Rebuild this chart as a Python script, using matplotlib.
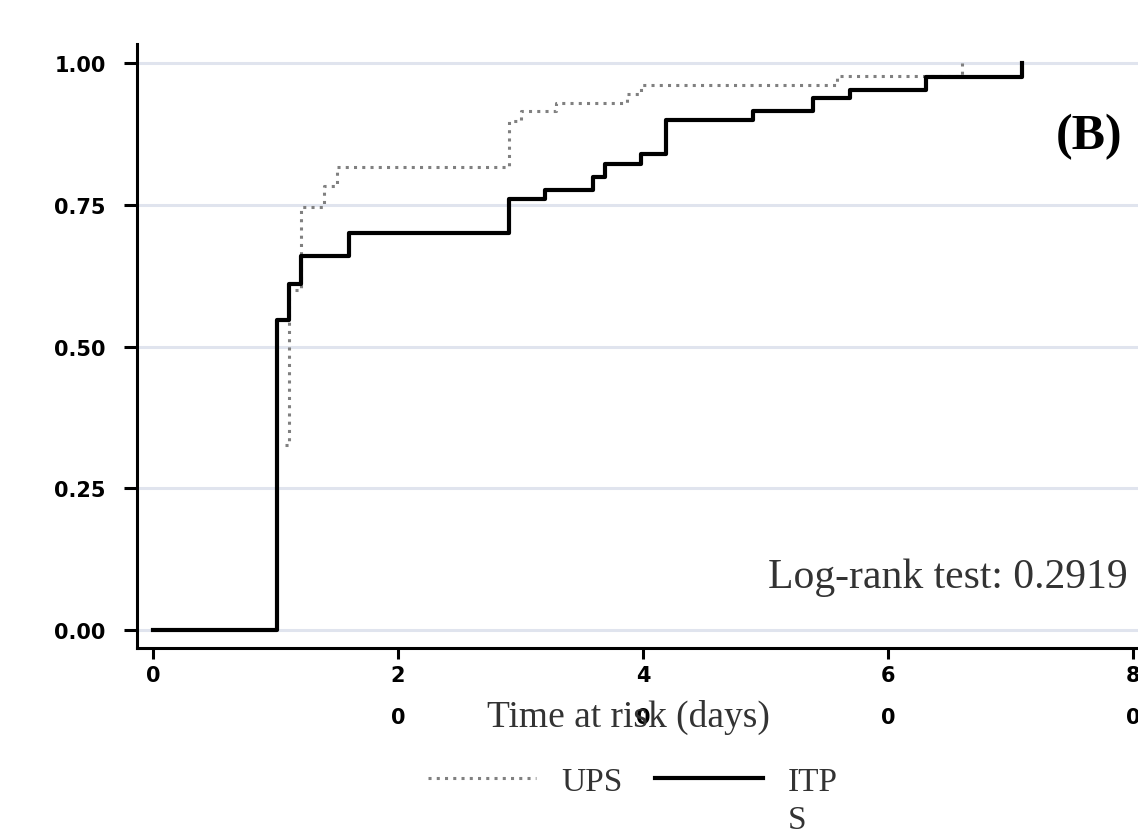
import matplotlib
matplotlib.use("Agg")
import matplotlib.pyplot as plt

# Kaplan-Meier style cumulative curves (time in days, cumulative proportion)
itps_t = [0, 10.1, 11.1, 12.05, 16.0, 29.1, 32.0, 35.9, 36.9, 39.8, 41.9, 49.0, 53.9, 56.9, 63.1, 70.9]
itps_s = [0.0, 0.547, 0.61, 0.66, 0.70, 0.76, 0.776, 0.80, 0.823, 0.84, 0.90, 0.916, 0.938, 0.953, 0.976, 1.0]
ups_t = [10.8, 11.1, 12.05, 14.0, 15.0, 29.1, 30.0, 32.9, 38.7, 39.8, 55.8, 66.0]
ups_s = [0.326, 0.60, 0.747, 0.784, 0.817, 0.899, 0.916, 0.93, 0.945, 0.961, 0.977, 1.0]

x_ticks = [0, 20, 40, 60, 80]
x_labels = ["0", "2\n0", "4\n0", "6\n0", "8\n0"]
y_ticks = [0.0, 0.25, 0.50, 0.75, 1.00]
y_labels = ["0.00", "0.25", "0.50", "0.75", "1.00"]

serif = ["Liberation Serif", "DejaVu Serif"]
narrow = ["Liberation Sans Narrow", "DejaVu Sans"]

fig = plt.figure(figsize=(11.38, 8.37), dpi=100)
ax = fig.add_axes([0.1204, 0.2246, 0.8796, 0.7216])

ax.set_xlim(-1.3, 80.4)
ax.set_ylim(-0.032, 1.034)

# grid
for y in y_ticks:
    ax.axhline(y, color="#e0e4ee", lw=2.2, zorder=0)

# curves
ax.plot(ups_t, ups_s, drawstyle="steps-post", color="#808080", lw=2.2,
        linestyle=(0, (1, 1.7)), label="UPS", zorder=2)
ax.plot(itps_t, itps_s, drawstyle="steps-post", color="black", lw=3,
        label="ITP", zorder=3)

# spines / ticks
for s in ["top", "right"]:
    ax.spines[s].set_visible(False)
for s in ["left", "bottom"]:
    ax.spines[s].set_linewidth(2.2)

ax.set_xticks(x_ticks, x_labels)
ax.set_yticks(y_ticks, y_labels)
ax.tick_params(axis="y", length=9.5, width=2.2, pad=13)
ax.tick_params(axis="x", length=8, width=2.2, pad=4)
for lbl in ax.get_yticklabels() + ax.get_xticklabels():
    lbl.set_family(narrow)
    lbl.set_fontweight("bold")
    lbl.set_fontsize(15)
for lbl in ax.get_xticklabels():
    lbl.set_linespacing(2.4)

ax.set_xlabel("Time at risk (days)", family=serif, fontsize=27, color="#333333")
ax.xaxis.set_label_coords(0.4905, -0.114)
ax.xaxis.label.set_va("center")

ax.text(0.990, 0.1175, "Log-rank test: 0.2919", transform=ax.transAxes,
        ha="right", va="center", family=serif, fontsize=30, color="#333333")
ax.text(0.984, 0.848, "(B)", transform=ax.transAxes, ha="right", va="center",
        family=serif, fontsize=36, fontweight="bold", color="black")

leg = ax.legend(loc="center", bbox_to_anchor=(0.5560, 0.0650),
                bbox_transform=fig.transFigure, ncol=2, frameon=False,
                prop={"family": serif, "size": 24}, handlelength=3.24,
                handletextpad=0.76, columnspacing=0.97, borderpad=0)
for t in leg.get_texts():
    t.set_color("#333333")

# wrapped part of the "ITPS" label
fig.canvas.draw()
bb = leg.get_texts()[1].get_window_extent()
x0 = fig.transFigure.inverted().transform((bb.x0, 0))[0]
fig.text(x0, 1 - 821 / 837, "S", ha="left", va="center", family=serif,
         fontsize=24, color="#333333")

fig.savefig("out.png", dpi=100)
